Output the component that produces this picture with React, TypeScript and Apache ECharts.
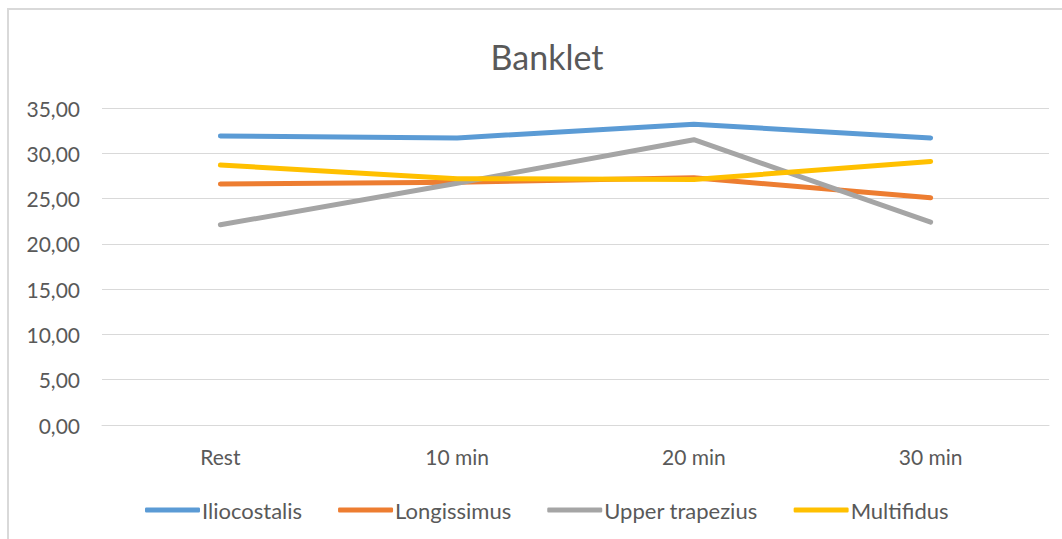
import React, { useEffect, useRef } from "react";
import * as echarts from "echarts";

const categories = ["Rest", "10 min", "20 min", "30 min"];
const iliocostalis = [31.9, 31.7, 33.2, 31.7];
const longissimus = [26.6, 26.8, 27.3, 25.1];
const upperTrapezius = [22.1, 26.7, 31.5, 22.4];
const multifidus = [28.7, 27.2, 27.1, 29.1];
const seriesNames = ["Iliocostalis", "Longissimus", "Upper trapezius", "Multifidus"];
const colors = ["#5B9BD5", "#ED7D31", "#A5A5A5", "#FFC000"];

const FONT = "Lato";

export default function App() {
  const ref = useRef<HTMLDivElement>(null);
  useEffect(() => {
    if (!ref.current) return;
    const chart = echarts.init(ref.current, null, { renderer: "svg" });
    const data = [iliocostalis, longissimus, upperTrapezius, multifidus];
    chart.setOption({
      animation: false,
      backgroundColor: "#ffffff",
      title: {
        text: "Banklet",
        left: 542,
        textAlign: "center",
        top: 34,
        textStyle: { fontFamily: FONT, fontSize: 34, fontWeight: "normal", color: "#595959" },
      },
      graphic: [
        {
          type: "rect",
          shape: { x: 8, y: 9, width: 1200, height: 700 },
          style: { fill: "none", stroke: "#d9d9d9", lineWidth: 2 },
          silent: true,
        },
      ],
      legend: {
        data: seriesNames.map((n) => ({ name: n, icon: "roundRect" })),
        left: 140,
        top: 494,
        itemWidth: 55,
        itemHeight: 5,
        itemGap: 36,
        textStyle: { fontFamily: FONT, fontSize: 22, color: "#595959", padding: [0, 0, 0, -3] },
      },
      grid: { left: 102, right: 13, top: 108, bottom: 114, containLabel: false },
      xAxis: {
        type: "category",
        data: categories,
        boundaryGap: true,
        axisLine: { lineStyle: { color: "#d9d9d9", width: 1 } },
        axisTick: { show: false },
        axisLabel: { fontFamily: FONT, fontSize: 21, color: "#595959", margin: 21 },
      },
      yAxis: {
        type: "value",
        min: 0,
        max: 35,
        interval: 5,
        axisLine: { show: false },
        axisTick: { show: false },
        splitLine: { lineStyle: { color: "#d9d9d9", width: 1 } },
        axisLabel: {
          fontFamily: FONT,
          fontSize: 21,
          color: "#595959",
          margin: 22,
          formatter: (v: number) => v.toFixed(2).replace(".", ","),
        },
      },
      series: seriesNames.map((name, i) => ({
        name,
        type: "line",
        data: data[i],
        symbol: "none",
        color: colors[i],
        lineStyle: { width: 5, color: colors[i], cap: "round", join: "round" },
      })),
    });
    return () => chart.dispose();
  }, []);
  return (
    <div
      ref={ref}
      style={{ position: "fixed", left: 0, top: 0, width: 1062, height: 539 }}
    />
  );
}
